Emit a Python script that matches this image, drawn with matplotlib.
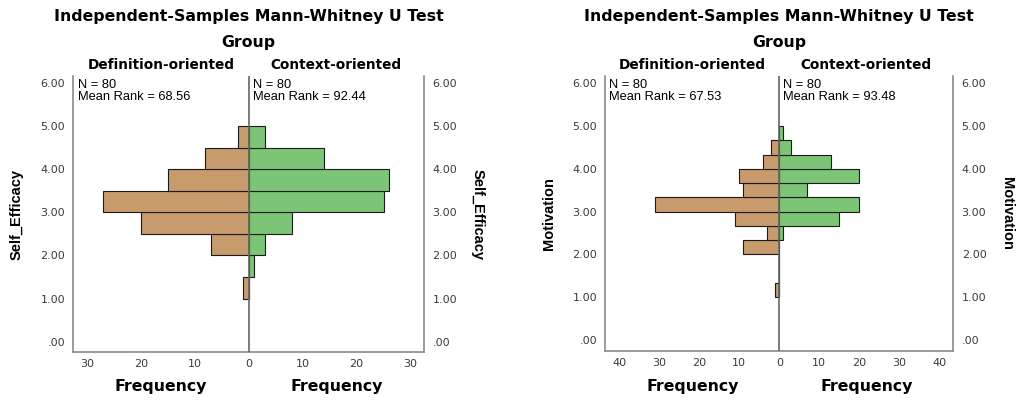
import matplotlib
matplotlib.use("Agg")
import matplotlib.pyplot as plt

# Self_Efficacy histogram (bin width 0.5, lower edges)
se_edges = [1.0, 1.5, 2.0, 2.5, 3.0, 3.5, 4.0, 4.5]
se_def = [1, 0, 7, 20, 27, 15, 8, 2]
se_ctx = [0, 1, 3, 8, 25, 26, 14, 3]
se_rank = (68.56, 92.44)

# Motivation histogram (bin width 1/3, lower edges)
mot_edges = [1.0, 4/3, 5/3, 2.0, 7/3, 8/3, 3.0, 10/3, 11/3, 4.0, 13/3, 14/3]
mot_def = [1, 0, 0, 9, 3, 11, 31, 9, 10, 4, 2, 0]
mot_ctx = [0, 0, 0, 0, 1, 15, 20, 7, 20, 13, 3, 1]
mot_rank = (67.53, 93.48)

n_group = (80, 80)
groups = ["Definition-oriented", "Context-oriented"]
y_ticks = [0, 1, 2, 3, 4, 5, 6]
y_ticklabels = [".00", "1.00", "2.00", "3.00", "4.00", "5.00", "6.00"]

BROWN = "#C89B6C"
GREEN = "#7CC576"
SPINE = "#8a8a8a"
TXT = "#3a3a3a"

W, H = 1019, 401
fig = plt.figure(figsize=(W / 100, H / 100), dpi=100)


def px_axes(x0, y0, x1, y1):
    return fig.add_axes([x0 / W, 1 - y1 / H, (x1 - x0) / W, (y1 - y0) / H])


def ftext(x, y, s, **kw):
    # place text by pixel position (from top-left)
    fig.text(x / W, 1 - y / H, s, ha="center", va="center", **kw)


def panel(ax, x0, x1, edges, bw, left, right, xmax, xticks, ylabel, ranks):
    ax.barh(edges, [-v for v in left], height=bw, align="edge",
            color=BROWN, edgecolor="#1a1a1a", linewidth=0.8, zorder=2)
    ax.barh(edges, right, height=bw, align="edge",
            color=GREEN, edgecolor="#1a1a1a", linewidth=0.8, zorder=2)
    ax.axvline(0, color="#666666", lw=1.2, zorder=3)
    ax.set_xlim(-xmax, xmax)
    ax.set_ylim(-0.25, 6.17)
    for s in ["left", "right", "bottom"]:
        ax.spines[s].set_color(SPINE)
        ax.spines[s].set_linewidth(1.2)
    ax.spines["top"].set_visible(False)

    ax.set_yticks(y_ticks)
    ax.set_yticklabels(y_ticklabels)
    ax.tick_params(axis="y", length=0, pad=6, labelsize=8, labelcolor=TXT,
                   left=True, right=True, labelleft=True, labelright=True)
    ticks = [-t for t in xticks[::-1]] + [0] + xticks
    ax.set_xticks(ticks)
    ax.set_xticklabels([str(abs(t)) for t in ticks])
    ax.tick_params(axis="x", length=0, pad=5, labelsize=8, labelcolor=TXT)

    ax.text(-0.162, 0.5, ylabel, transform=ax.transAxes, rotation=90,
            ha="center", va="center", fontsize=10.5, fontweight="bold",
            family="Liberation Sans")
    ax.text(1.153, 0.5, ylabel, transform=ax.transAxes, rotation=-90,
            ha="center", va="center", fontsize=10.5, fontweight="bold",
            family="Liberation Sans")

    xc = (x0 + x1) / 2
    for i, xpos in enumerate([0.012, 0.512]):
        ax.text(xpos, 0.988, f"N = {n_group[i]}\nMean Rank = {ranks[i]:.2f}",
                transform=ax.transAxes, ha="left", va="top", fontsize=9.3,
                family="Liberation Sans", linespacing=0.92)
        hx = (x0 + xc) / 2 if i == 0 else (xc + x1) / 2
        ftext(hx, 65, groups[i], fontsize=9.8, fontweight="bold")
        ftext(hx, 387, "Frequency", fontsize=11.3, fontweight="bold")

    ftext(xc, 42, "Group", fontsize=11.3, fontweight="bold")
    ftext(xc, 17, "Independent-Samples Mann-Whitney U Test", fontsize=11.3,
          fontweight="bold")


ax1 = px_axes(73.3, 76, 424, 352.3)
panel(ax1, 73.3, 424, se_edges, 0.5, se_def, se_ctx, 32.5, [10, 20, 30],
      "Self_Efficacy", se_rank)

ax2 = px_axes(605.3, 76, 953.3, 350.7)
panel(ax2, 605.3, 953.3, mot_edges, 1 / 3, mot_def, mot_ctx, 43.5,
      [10, 20, 30, 40], "Motivation", mot_rank)

fig.savefig("out.png", dpi=100)
